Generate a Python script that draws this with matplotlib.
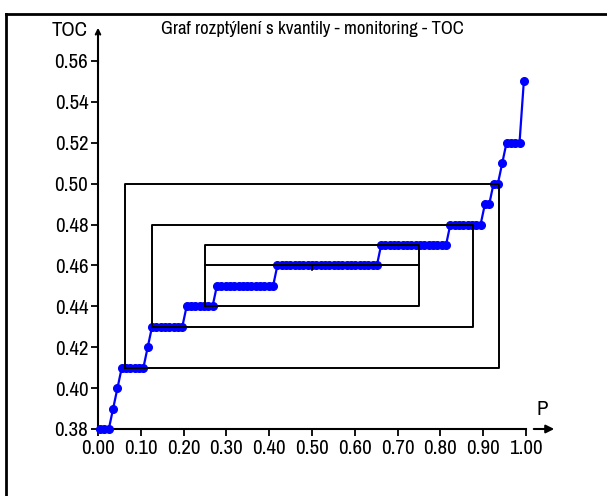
import numpy as np
import matplotlib
matplotlib.use('Agg')
import matplotlib.pyplot as plt
from matplotlib.lines import Line2D

# sorted TOC values, given as (level, count)
levels = [0.38, 0.39, 0.40, 0.41, 0.42, 0.43, 0.44, 0.45, 0.46, 0.47, 0.48,
          0.49, 0.50, 0.51, 0.52, 0.55]
counts = [3, 1, 1, 6, 1, 8, 7, 14, 24, 16, 8, 2, 2, 1, 4, 1]

# quantile boxes (probability, lower value, upper value)
box_p = [0.0625, 0.125, 0.25]
box_low = [0.41, 0.43, 0.44]
box_high = [0.50, 0.48, 0.47]
median_val = 0.46

xticks = [0.0, 0.1, 0.2, 0.3, 0.4, 0.5, 0.6, 0.7, 0.8, 0.9, 1.0]
yticks = [0.38, 0.40, 0.42, 0.44, 0.46, 0.48, 0.50, 0.52, 0.54, 0.56]

title = 'Graf rozptýlení s kvantily - monitoring - TOC'

plt.rcParams['font.family'] = ['Archivo Narrow', 'Liberation Sans Narrow', 'DejaVu Sans']

values = np.repeat(levels, counts)
n = len(values)
p = (np.arange(1, n + 1) - 0.5) / n

W, H = 607, 496
fig = plt.figure(figsize=(W / 100, H / 100), dpi=100)
ax = fig.add_axes([0, 0, 1, 1])

# pixel layout of the original: P 0 -> 98px, 1 -> 526px; 0.38 -> 429px, 0.02 = 40.9px
x0, xs = 98, 428
y0, ys = 429, 40.9 / 0.02
ax.set_xlim(-x0 / xs, (W - x0) / xs)
ax.set_ylim(0.38 - (H - y0) / ys, 0.38 + y0 / ys)
ax.patch.set_alpha(0)

for s in ['top', 'right']:
    ax.spines[s].set_visible(False)
ax.spines['left'].set_position(('data', 0))
ax.spines['bottom'].set_position(('data', 0.38))
ax.spines['left'].set_bounds(0.38, 0.56)
ax.spines['bottom'].set_bounds(0, 1.0)
for s in ['left', 'bottom']:
    ax.spines[s].set_linewidth(1.5)

ax.set_xticks(xticks)
ax.set_xticklabels(['%.2f' % t for t in xticks])
ax.set_yticks(yticks)
ax.set_yticklabels(['%.2f' % t for t in yticks])
ax.tick_params(direction='out', length=5, width=1.3, labelsize=15, pad=2)

# axis arrows
ax.annotate('', xy=(0, 0.38 + (y0 - 25) / ys), xytext=(0, 0.557),
            arrowprops=dict(arrowstyle='->', lw=1.5, color='black',
                            mutation_scale=8))
ax.annotate('', xy=((557 - x0) / xs, 0.38), xytext=((531 - x0) / xs, 0.38),
            arrowprops=dict(arrowstyle='-|>', lw=1.5, color='black',
                            mutation_scale=12))
ax.text((542 - x0) / xs, 0.38 + (y0 - 410) / ys, 'P', fontsize=15,
        ha='center', va='center')
ax.text((70 - x0) / xs, 0.38 + (y0 - 30) / ys, 'TOC', fontsize=15,
        ha='center', va='center')
ax.text((312 - x0) / xs, 0.38 + (y0 - 29) / ys, title, fontsize=13.5,
        ha='center', va='center')

# data
ax.plot(p, values, '-o', color='#0000ff', lw=1.6, ms=5.5, zorder=3)

# quantile boxes
for bp, lo, hi in zip(box_p, box_low, box_high):
    ax.plot([bp, 1 - bp, 1 - bp, bp, bp], [lo, lo, hi, hi, lo],
            color='black', lw=1.4, zorder=4)
ax.plot([box_p[-1], 1 - box_p[-1]], [median_val, median_val],
        color='black', lw=1.4, zorder=4)
ax.plot([0.5, 0.5], [median_val, median_val - 5 / ys], color='black',
        lw=1.2, zorder=4)

# outer frame (left and top edge)
fig.add_artist(Line2D([6 / W, 6 / W], [0, 1 - 14 / H], color='black', lw=2))
fig.add_artist(Line2D([6 / W, 1], [1 - 14 / H, 1 - 14 / H], color='black', lw=2))

fig.savefig('out.png', dpi=100)
